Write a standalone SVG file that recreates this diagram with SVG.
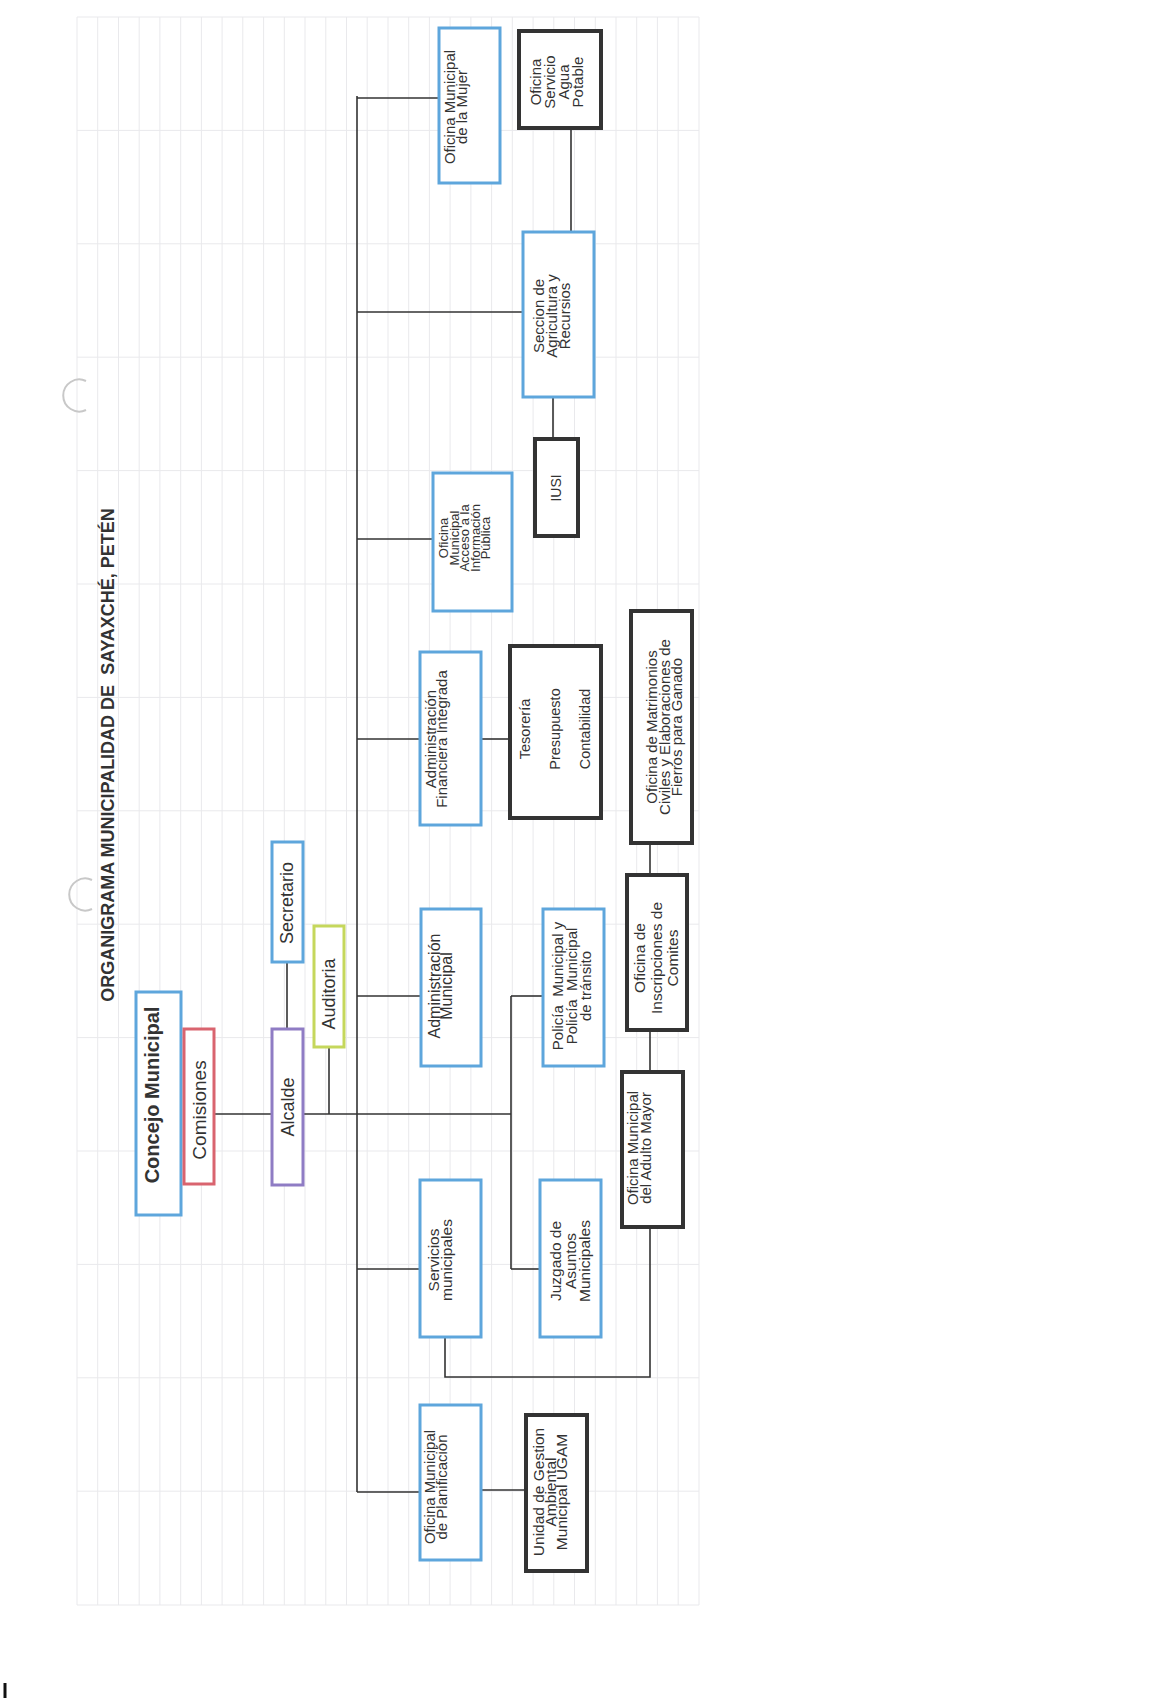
<svg xmlns="http://www.w3.org/2000/svg" width="1161" height="1698" viewBox="0 0 1161 1698">
<style>
.grid line{stroke:#e9e9ec;stroke-width:1}
.box{fill:#fff}
.blue{stroke:#5ea6dc;stroke-width:3}
.dark{stroke:#333;stroke-width:4}
.pink{stroke:#d9646f;stroke-width:3}
.purple{stroke:#8f7cc4;stroke-width:3}
.green{stroke:#c5d75c;stroke-width:3}
.t{font-family:"Liberation Sans",Arial,sans-serif;fill:#333;text-anchor:middle;dominant-baseline:central}
.conn path{fill:none;stroke:#333;stroke-width:1.6}
</style>
<rect width="1161" height="1698" fill="#fff"/>
<g class="grid" id="grid">
<line x1="77" y1="17" x2="77" y2="1605"/><line x1="97.7" y1="17" x2="97.7" y2="1605"/><line x1="118.5" y1="17" x2="118.5" y2="1605"/><line x1="139.2" y1="17" x2="139.2" y2="1605"/><line x1="159.9" y1="17" x2="159.9" y2="1605"/><line x1="180.7" y1="17" x2="180.7" y2="1605"/><line x1="201.4" y1="17" x2="201.4" y2="1605"/><line x1="222.1" y1="17" x2="222.1" y2="1605"/><line x1="242.8" y1="17" x2="242.8" y2="1605"/><line x1="263.6" y1="17" x2="263.6" y2="1605"/><line x1="284.3" y1="17" x2="284.3" y2="1605"/><line x1="305" y1="17" x2="305" y2="1605"/><line x1="325.8" y1="17" x2="325.8" y2="1605"/><line x1="346.5" y1="17" x2="346.5" y2="1605"/><line x1="367.2" y1="17" x2="367.2" y2="1605"/><line x1="388" y1="17" x2="388" y2="1605"/><line x1="408.7" y1="17" x2="408.7" y2="1605"/><line x1="429.4" y1="17" x2="429.4" y2="1605"/><line x1="450.1" y1="17" x2="450.1" y2="1605"/><line x1="470.9" y1="17" x2="470.9" y2="1605"/><line x1="491.6" y1="17" x2="491.6" y2="1605"/><line x1="512.3" y1="17" x2="512.3" y2="1605"/><line x1="533.1" y1="17" x2="533.1" y2="1605"/><line x1="553.8" y1="17" x2="553.8" y2="1605"/><line x1="574.5" y1="17" x2="574.5" y2="1605"/><line x1="595.3" y1="17" x2="595.3" y2="1605"/><line x1="616" y1="17" x2="616" y2="1605"/><line x1="636.7" y1="17" x2="636.7" y2="1605"/><line x1="657.4" y1="17" x2="657.4" y2="1605"/><line x1="678.2" y1="17" x2="678.2" y2="1605"/><line x1="699" y1="17" x2="699" y2="1605"/>
<line x1="77" y1="17" x2="699" y2="17"/><line x1="77" y1="130.4" x2="699" y2="130.4"/><line x1="77" y1="243.8" x2="699" y2="243.8"/><line x1="77" y1="357.2" x2="699" y2="357.2"/><line x1="77" y1="470.6" x2="699" y2="470.6"/><line x1="77" y1="584" x2="699" y2="584"/><line x1="77" y1="697.4" x2="699" y2="697.4"/><line x1="77" y1="810.8" x2="699" y2="810.8"/><line x1="77" y1="924.2" x2="699" y2="924.2"/><line x1="77" y1="1037.6" x2="699" y2="1037.6"/><line x1="77" y1="1151" x2="699" y2="1151"/><line x1="77" y1="1264.4" x2="699" y2="1264.4"/><line x1="77" y1="1377.8" x2="699" y2="1377.8"/><line x1="77" y1="1491.2" x2="699" y2="1491.2"/><line x1="77" y1="1605" x2="699" y2="1605"/>
</g>
<g id="marks" fill="none" stroke="#c8c8c8" stroke-width="2">
<path d="M86 381 A16 16 0 1 0 86 410"/>
<path d="M92 880 A16 16 0 1 0 92 909"/>
<line x1="5" y1="1683" x2="5" y2="1698" stroke="#111" stroke-width="3"/>
</g>
<text class="t" xml:space="preserve" transform="translate(108,755) rotate(-90)" font-size="18" font-weight="bold" fill="#3a3a3a">ORGANIGRAMA MUNICIPALIDAD DE  SAYAXCHÉ, PETÉN</text>
<g class="conn" id="connectors">
<path d="M214 1114 H272"/>
<path d="M287 962 V1029"/>
<path d="M303 1114 H511"/>
<path d="M329 1047 V1114"/>
<path d="M357 96 V1492"/>
<path d="M357 98 H439"/>
<path d="M357 312 H523"/>
<path d="M357 539 H433"/>
<path d="M357 739 H420"/>
<path d="M357 996 H421"/>
<path d="M357 1269 H420"/>
<path d="M357 1492 H420"/>
<path d="M511 996 V1269"/>
<path d="M511 996 H543"/>
<path d="M511 1269 H540"/>
<path d="M481 739 H510"/>
<path d="M481 1490 H526"/>
<path d="M571 128 V232"/>
<path d="M553 397 V439"/>
<path d="M650 843 V875"/>
<path d="M650 1030 V1072"/>
<path d="M445 1337 V1377 H650 V1227"/>
</g>
<g id="n-concejo"><rect class="box blue" x="136" y="992" width="45" height="223"/><text class="t" transform="translate(152,1095) rotate(-90)" font-size="20" font-weight="bold">Concejo Municipal</text></g>
<g id="n-comisiones"><rect class="box pink" x="184" y="1029" width="30" height="155"/><text class="t" transform="translate(199,1110) rotate(-90)" font-size="19">Comisiones</text></g>
<g id="n-alcalde"><rect class="box purple" x="272" y="1029" width="31" height="156"/><text class="t" transform="translate(288,1107) rotate(-90)" font-size="18" fill="#8576b8">Alcalde</text></g>
<g id="n-secretario"><rect class="box blue" x="272" y="842" width="31" height="120"/><text class="t" transform="translate(287,903) rotate(-90)" font-size="18">Secretario</text></g>
<g id="n-auditoria"><rect class="box green" x="314" y="926" width="30" height="121"/><text class="t" transform="translate(329,994) rotate(-90)" font-size="18">Auditoria</text></g>
<g id="n-adminmun"><rect class="box blue" x="421" y="909" width="60" height="157"/><text class="t" transform="translate(434,986) rotate(-90)" font-size="16"><tspan x="0" y="0">Administración</tspan><tspan x="0" y="11.5">Municipal</tspan></text></g>
<g id="n-policia"><rect class="box blue" x="543" y="909" width="61" height="157"/><text class="t" xml:space="preserve" transform="translate(557,986) rotate(-90)" font-size="15"><tspan x="0" y="0">Policía  Municipal y</tspan><tspan x="0" y="14">Policía  Municipal</tspan><tspan x="0" y="28">de tránsito</tspan></text></g>
<g id="n-servicios"><rect class="box blue" x="420" y="1180" width="61" height="157"/><text class="t" transform="translate(433,1260) rotate(-90)" font-size="15.5"><tspan x="0" y="0">Servicios</tspan><tspan x="0" y="13">municipales</tspan></text></g>
<g id="n-juzgado"><rect class="box blue" x="540" y="1180" width="61" height="157"/><text class="t" transform="translate(555,1261) rotate(-90)" font-size="15.5"><tspan x="0" y="0">Juzgado de</tspan><tspan x="0" y="14.5">Asuntos</tspan><tspan x="0" y="29">Municipales</tspan></text></g>
<g id="n-planificacion"><rect class="box blue" x="420" y="1405" width="61" height="155"/><text class="t" transform="translate(429,1487) rotate(-90)" font-size="15"><tspan x="0" y="0">Oficina Municipal</tspan><tspan x="0" y="12">de Planificación</tspan></text></g>
<g id="n-ugam"><rect class="box dark" x="526" y="1415" width="61" height="156"/><text class="t" transform="translate(538,1492) rotate(-90)" font-size="15.5"><tspan x="0" y="0">Unidad de Gestion</tspan><tspan x="0" y="11.5">Ambiental</tspan><tspan x="0" y="23">Municipal UGAM</tspan></text></g>
<g id="n-adultomayor"><rect class="box dark" x="622" y="1072" width="61" height="155"/><text class="t" transform="translate(632,1148) rotate(-90)" font-size="15"><tspan x="0" y="0">Oficina Municipal</tspan><tspan x="0" y="13">del Adulto Mayor</tspan></text></g>
<g id="n-comites"><rect class="box dark" x="627" y="875" width="60" height="155"/><text class="t" transform="translate(639,958) rotate(-90)" font-size="15.5"><tspan x="0" y="0">Oficina de</tspan><tspan x="0" y="16.5">Inscripciones de</tspan><tspan x="0" y="33">Comites</tspan></text></g>
<g id="n-matrimonios"><rect class="box dark" x="631" y="611" width="61" height="232"/><text class="t" transform="translate(651,727) rotate(-90)" font-size="15"><tspan x="0" y="0">Oficina de Matrimonios</tspan><tspan x="0" y="12.5">Civiles y Elaboraciones de</tspan><tspan x="0" y="25">Fierros para Ganado</tspan></text></g>
<g id="n-tesoreria"><rect class="box dark" x="510" y="646" width="91" height="172"/><text class="t" transform="translate(525,729) rotate(-90)" font-size="14.5"><tspan x="0" y="0">Tesorería</tspan><tspan x="0" y="30">Presupuesto</tspan><tspan x="0" y="60">Contabilidad</tspan></text></g>
<g id="n-afi"><rect class="box blue" x="420" y="652" width="61" height="173"/><text class="t" transform="translate(430,739) rotate(-90)" font-size="15"><tspan x="0" y="0">Administración</tspan><tspan x="0" y="11">Financiera Integrada</tspan></text></g>
<g id="n-acceso"><rect class="box blue" x="433" y="473" width="79" height="138"/><text class="t" transform="translate(443,538) rotate(-90)" font-size="13"><tspan x="0" y="0">Oficina</tspan><tspan x="0" y="10.5">Municipal</tspan><tspan x="0" y="21">Acceso a la</tspan><tspan x="0" y="31.5">Información</tspan><tspan x="0" y="42">Pública</tspan></text></g>
<g id="n-iusi"><rect class="box dark" x="535" y="439" width="43" height="97"/><text class="t" transform="translate(556,488) rotate(-90)" font-size="14">IUSI</text></g>
<g id="n-seccion"><rect class="box blue" x="523" y="232" width="71" height="165"/><text class="t" transform="translate(538,316) rotate(-90)" font-size="15"><tspan x="0" y="0">Seccion de</tspan><tspan x="0" y="13">Agricultura y</tspan><tspan x="0" y="26">Recursios</tspan></text></g>
<g id="n-mujer"><rect class="box blue" x="439" y="28" width="61" height="155"/><text class="t" transform="translate(449,107) rotate(-90)" font-size="15"><tspan x="0" y="0">Oficina Municipal</tspan><tspan x="0" y="12">de la Mujer</tspan></text></g>
<g id="n-agua"><rect class="box dark" x="519" y="31" width="82" height="97"/><text class="t" transform="translate(535,82) rotate(-90)" font-size="15"><tspan x="0" y="0">Oficina</tspan><tspan x="0" y="14">Servicio</tspan><tspan x="0" y="28">Agua</tspan><tspan x="0" y="42">Potable</tspan></text></g>
</svg>
